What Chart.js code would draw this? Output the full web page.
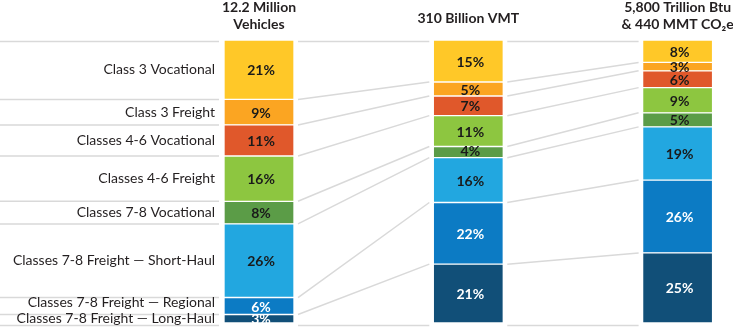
<!DOCTYPE html>
<html>
<head>
<meta charset="utf-8">
<script src="https://cdn.jsdelivr.net/npm/chart.js@4/dist/chart.umd.min.js"></script>
<style>
  html, body { margin: 0; padding: 0; background: #fff; }
  #wrap { width: 733px; height: 330px; position: relative; }
</style>
</head>
<body>
<div id="wrap"><canvas id="chart"></canvas></div>
<script>
// Segments, listed top to bottom as they appear in each column
const categories = [
  'Class 3 Vocational',
  'Class 3 Freight',
  'Classes 4-6 Vocational',
  'Classes 4-6 Freight',
  'Classes 7-8 Vocational',
  'Classes 7-8 Freight — Short-Haul',
  'Classes 7-8 Freight — Regional',
  'Classes 7-8 Freight — Long-Haul'
];
const columnTitles = [
  ['12.2 Million', 'Vehicles'],
  ['310 Billion VMT'],
  ['5,800 Trillion Btu', '& 440 MMT CO₂e']
];
const vehiclesPct = [21, 9, 11, 16, 8, 26, 6, 3];
const vmtPct      = [15, 5, 7, 11, 4, 16, 22, 21];
const energyPct   = [8, 3, 6, 9, 5, 19, 26, 25];

const segColors = ['#ffc828', '#fba522', '#e0582b', '#8dc640', '#5b9c47', '#22a7e0', '#0c7bc4', '#114f78'];
const lightText = [false, false, false, false, false, false, true, true];

const columns = [vehiclesPct, vmtPct, energyPct];
const totals = columns.map(col => col.reduce((a, b) => a + b, 0));

// bottom segment first so Chart.js stacks it at the base
const datasets = categories.map((name, i) => ({
  label: name,
  data: columns.map((col, c) => ({ x: c, y: col[i] * 100 / totals[c] })),
  backgroundColor: segColors[i],
  borderColor: '#ffffff',
  borderWidth: 1,
  borderSkipped: false,
  barThickness: 70
})).reverse();

const n = categories.length;
const elemFor = (chart, cat, col) => chart.getDatasetMeta(n - 1 - cat).data[col];

function boundaryY(chart, col, k) {
  if (k === 0) return elemFor(chart, 0, col).y + 1.5;
  if (k === n) return elemFor(chart, n - 1, col).base + 2.5;
  return elemFor(chart, k, col).y;
}

const decorPlugin = {
  id: 'decor',
  afterDatasetsDraw(chart) {
    const ctx = chart.ctx;
    ctx.save();

    // guide lines
    ctx.strokeStyle = '#d9d9d9';
    ctx.lineWidth = 1.5;
    for (let k = 0; k <= n; k++) {
      const y0 = boundaryY(chart, 0, k);
      ctx.beginPath();
      ctx.moveTo(0, y0);
      ctx.lineTo(219, y0);
      ctx.stroke();
      for (let c = 0; c < 2; c++) {
        const a = elemFor(chart, 0, c), b = elemFor(chart, 0, c + 1);
        ctx.beginPath();
        ctx.moveTo(a.x + a.width / 2 + 4, boundaryY(chart, c, k));
        ctx.lineTo(b.x - b.width / 2 - 4, boundaryY(chart, c + 1, k));
        ctx.stroke();
      }
    }

    // category labels, nudged apart where the segments are thin
    ctx.font = '14px Lato, "Open Sans", sans-serif';
    ctx.fillStyle = '#231f20';
    ctx.textAlign = 'right';
    ctx.textBaseline = 'middle';
    const labelY = categories.map((_, i) => {
      const e = elemFor(chart, i, 0);
      return (e.y + e.base) / 2;
    });
    for (let i = n - 2; i >= 0; i--) {
      labelY[i] = Math.min(labelY[i], labelY[i + 1] - 16);
    }
    categories.forEach((name, i) => ctx.fillText(name, 215, labelY[i]));

    // percentage labels
    ctx.font = 'bold 14px Lato, "Open Sans", sans-serif';
    ctx.textAlign = 'center';
    columns.forEach((col, c) => {
      col.forEach((v, i) => {
        const e = elemFor(chart, i, c);
        const mid = Math.max(Math.min((e.y + e.base) / 2 + 1, e.base - 6), e.y + 5);
        ctx.fillStyle = lightText[i] ? '#ffffff' : '#1a1a1a';
        ctx.fillText(v + '%', e.x + 2, mid);
      });
    });

    // column titles
    ctx.fillStyle = '#231f20';
    columnTitles.forEach((lines, c) => {
      const e = elemFor(chart, 0, c);
      if (lines.length === 1) {
        ctx.fillText(lines[0], e.x, 18);
      } else {
        ctx.fillText(lines[0], e.x, 7);
        ctx.fillText(lines[1], e.x, 24);
      }
    });

    ctx.restore();
  }
};

new Chart(document.getElementById('chart'), {
  type: 'bar',
  data: { datasets: datasets },
  options: {
    responsive: true,
    maintainAspectRatio: false,
    animation: false,
    layout: { padding: { top: 40, bottom: 7, left: 0, right: 0 } },
    plugins: {
      legend: { display: false },
      tooltip: { enabled: false }
    },
    scales: {
      x: { type: 'linear', stacked: true, display: false, offset: false, min: -1.2375, max: 2.2647 },
      y: { stacked: true, display: false, min: 0, max: 100 }
    }
  },
  plugins: [decorPlugin]
});
</script>
</body>
</html>
